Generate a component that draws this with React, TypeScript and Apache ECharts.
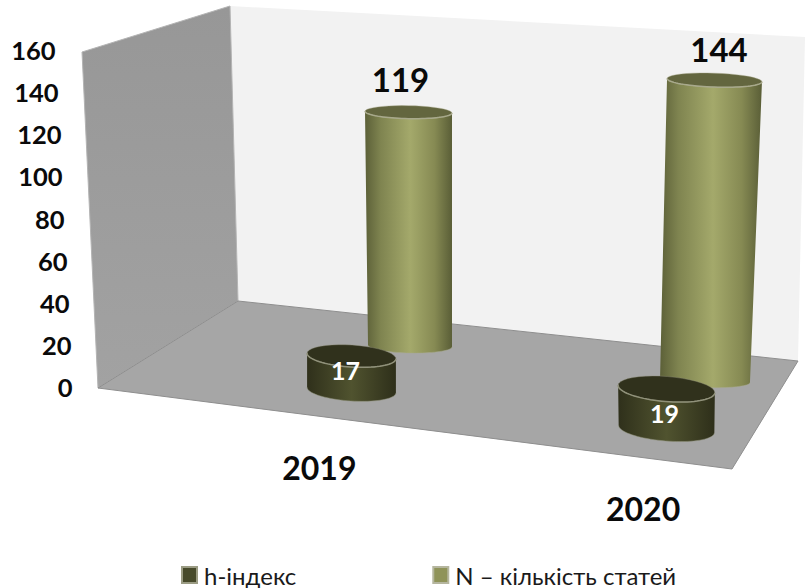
import React, { useEffect, useRef } from "react";
import * as echarts from "echarts";

const categories = ["2019", "2020"];
const seriesNames = ["h-індекс", "N – кількість статей"];
const hIndexValues = [17, 19];
const articleValues = [119, 144];
const yTicks = [0, 20, 40, 60, 80, 100, 120, 140, 160];

const FONT = 'Lato, "Noto Sans", sans-serif';

// right padding of each tick label: the axis leans with the side wall
const tickPad: Record<number, number> = { 0: 0, 20: 1, 40: 3, 60: 5, 80: 8, 100: 10, 120: 11, 140: 14, 160: 17 };

// projected cylinder geometry, per category
const hLayout = [
  { bx: 351.5, by: 390, rxB: 44.5, ryB: 11, rxT: 44.5, ryT: 11, tilt: 0.065, depth: 0.949, lean: 0, lx: -6, ly: -3 },
  { bx: 666.5, by: 429, rxB: 48, ryB: 12, rxT: 48.5, ryT: 12.5, tilt: 0.08, depth: 0.999, lean: 0, lx: -2, ly: 4 },
];
const nLayout = [
  { bx: 410, by: 346, rxB: 42, ryB: 7, rxT: 43.5, ryT: 6.5, tilt: 0.02, depth: 0.933, lean: -1.5, lx: -8, ly: -33 },
  { bx: 705, by: 381, rxB: 45, ryB: 6.5, rxT: 47.5, ryT: 7, tilt: 0.035, depth: 0.992, lean: 9.5, lx: 4.5, ly: -31 },
];

const arc = (cx: number, cy: number, rx: number, ry: number, tilt: number, from: number, to: number) => {
  const pts: number[][] = [];
  const n = 40;
  for (let i = 0; i <= n; i++) {
    const a = from + ((to - from) * i) / n;
    const x = rx * Math.cos(a);
    const y = ry * Math.sin(a);
    pts.push([cx + x * Math.cos(tilt) - y * Math.sin(tilt), cy + x * Math.sin(tilt) + y * Math.cos(tilt)]);
  }
  return pts;
};

const makeRenderer = (
  layout: typeof hLayout,
  stops: [number, string][],
  capFill: string,
  rim: string,
  labelStyle: any
) => (_params: any, api: any) => {
  const cat = api.value(0) as number;
  const val = api.value(1) as number;
  const g = layout[cat];
  const h = (api.coord([cat, 0])[1] - api.coord([cat, val])[1]) * g.depth;
  const tx = g.bx + g.lean;
  const ty = g.by - h;
  const topFront = arc(tx, ty, g.rxT, g.ryT, g.tilt, Math.PI, 0);
  const botFront = arc(g.bx, g.by, g.rxB, g.ryB, g.tilt, 0, Math.PI);
  return {
    type: "group",
    children: [
      {
        type: "polygon",
        shape: { points: [...topFront, ...botFront] },
        style: { fill: new echarts.graphic.LinearGradient(0, 0, 1, 0, stops.map(([offset, color]) => ({ offset, color }))) },
      },
      {
        type: "polyline",
        shape: { points: botFront },
        style: { fill: "none", stroke: rim, lineWidth: 1, opacity: 0.5 },
      },
      {
        type: "polygon",
        shape: { points: arc(tx, ty, g.rxT, g.ryT, g.tilt, 0, Math.PI * 2) },
        style: { fill: capFill, stroke: rim, lineWidth: 0.4 },
      },
      {
        type: "polyline",
        shape: { points: arc(tx, ty, g.rxT, g.ryT, g.tilt, 0, Math.PI) },
        style: { fill: "none", stroke: rim, lineWidth: 1.5 },
      },
      {
        type: "text",
        x: tx + g.lx,
        y: labelStyle.inside ? (ty + g.by) / 2 + g.ly : ty + g.ly,
        style: {
          text: String(val),
          fill: labelStyle.fill,
          fontSize: labelStyle.size,
          fontWeight: "bold",
          fontFamily: FONT,
          align: "center",
          verticalAlign: "middle",
        },
      },
    ],
  };
};

const toData = (values: number[]) => values.map((v, i) => [i, v]);

export default function App() {
  const ref = useRef<HTMLDivElement>(null);
  useEffect(() => {
    const chart = echarts.init(ref.current!, null, { renderer: "svg" });
    const rich: Record<string, any> = {};
    yTicks.forEach((t) => {
      rich["t" + t] = { fontSize: 25.5, fontWeight: "bold", fontFamily: FONT, color: "#0a0a0a", padding: [0, tickPad[t], 0, 0] };
    });
    chart.setOption({
      animation: false,
      backgroundColor: "#ffffff",
      grid: { left: 157.5, width: 650, top: 50, bottom: 201, containLabel: false },
      xAxis: {
        type: "category",
        data: categories,
        axisLine: { show: false },
        axisTick: { show: false },
        axisLabel: {
          margin: 64,
          formatter: (v: string, i: number) => (i === 0 ? `{a|${v}}` : `{b|${v}}`),
          rich: {
            a: { fontSize: 32, fontWeight: "bold", fontFamily: FONT, color: "#0a0a0a" },
            b: { fontSize: 32, fontWeight: "bold", fontFamily: FONT, color: "#0a0a0a", padding: [41, 0, 0, 0] },
          },
        },
      },
      yAxis: {
        type: "value",
        min: 0,
        max: 160,
        interval: 20,
        axisLine: { show: false },
        axisTick: { show: false },
        splitLine: { show: false },
        axisLabel: { margin: 85, align: "right", formatter: (v: number) => `{t${v}|${v}}`, rich },
      },
      legend: {
        left: 181,
        top: 563,
        padding: 0,
        icon: "rect",
        itemWidth: 15,
        itemHeight: 16,
        itemGap: 136,
        data: [seriesNames[0], seriesNames[1]],
        textStyle: { fontSize: 24, fontFamily: FONT, color: "#1a1a1a", padding: [0, 0, 0, 2] },
      },
      graphic: {
        elements: [
          {
            type: "polygon",
            silent: true,
            z: -3,
            shape: { points: [[230, 6], [805, 37], [798, 361], [238, 301]] },
            style: { fill: "#f2f2f2" },
          },
          {
            type: "polygon",
            silent: true,
            z: -2,
            shape: { points: [[82, 52], [230, 6], [238, 301], [98, 388]] },
            style: {
              fill: new echarts.graphic.LinearGradient(0, 0, 0, 1, [
                { offset: 0, color: "#979797" },
                { offset: 1, color: "#a2a2a2" },
              ]),
              stroke: "#b4b4b4",
              lineWidth: 1,
            },
          },
          {
            type: "polygon",
            silent: true,
            z: -1,
            shape: { points: [[98, 388], [238, 301], [798, 361], [732, 469]] },
            style: { fill: "#a6a6a6", stroke: "#8e8e8e", lineWidth: 1 },
          },
        ],
      },
      series: [
        {
          type: "custom",
          name: seriesNames[1],
          data: toData(articleValues),
          encode: { x: 0, y: 1 },
          itemStyle: { color: "#8f9359", borderColor: "#b5b69f", borderWidth: 1 },
          renderItem: makeRenderer(
            nLayout,
            [[0, "#5c6038"], [0.18, "#7f8450"], [0.52, "#a4a96b"], [0.8, "#868a53"], [1, "#5a5e37"]],
            "#63663f",
            "#a8a98c",
            { inside: false, fill: "#0a0a0a", size: 33 }
          ),
        },
        {
          type: "custom",
          name: seriesNames[0],
          data: toData(hIndexValues),
          encode: { x: 0, y: 1 },
          itemStyle: { color: "#474a2b", borderColor: "#9b9c84", borderWidth: 1 },
          renderItem: makeRenderer(
            hLayout,
            [[0, "#2f301b"], [0.5, "#50532f"], [1, "#2e2f1a"]],
            "#30311c",
            "#90917a",
            { inside: true, fill: "#ffffff", size: 25 }
          ),
        },
      ],
    });
    return () => chart.dispose();
  }, []);
  return <div ref={ref} style={{ position: "absolute", left: 0, top: 0, width: 805, height: 588 }} />;
}
